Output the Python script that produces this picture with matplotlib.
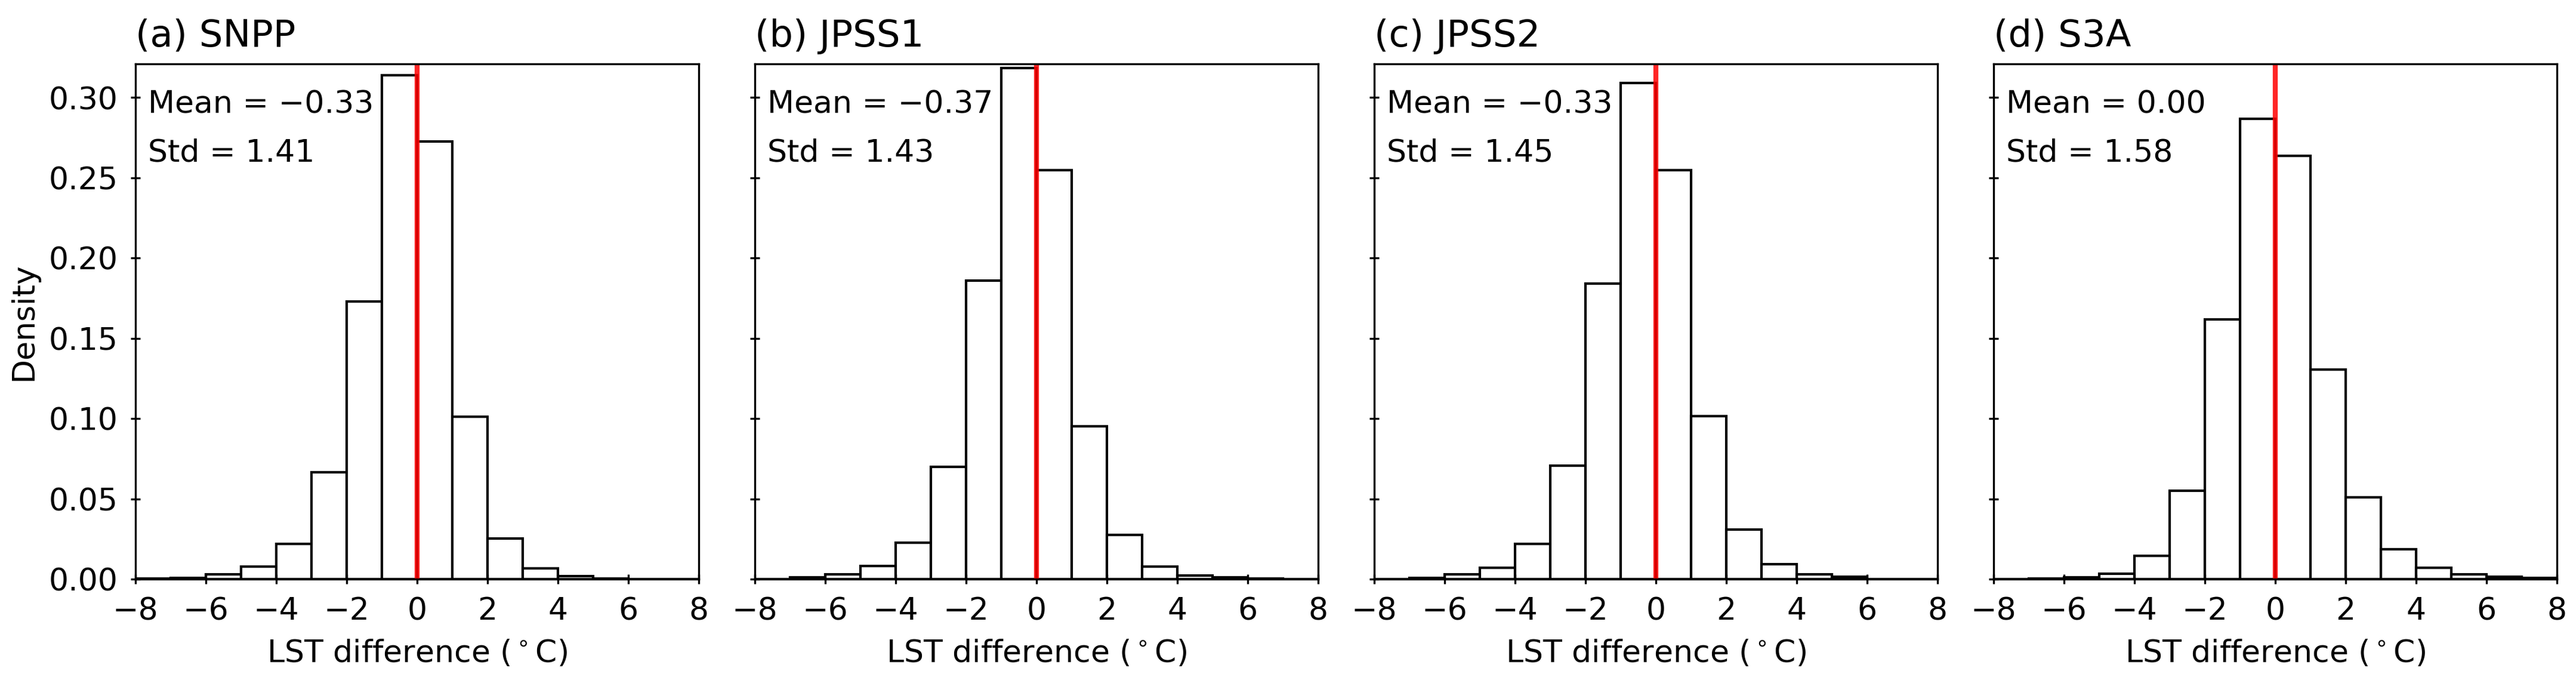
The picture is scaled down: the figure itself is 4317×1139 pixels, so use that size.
# required libraries
import numpy as np
import matplotlib
matplotlib.use("Agg")
import matplotlib.pyplot as plt

# bin edges of the histograms (LST difference, deg C)
bin_edges = np.arange(-8, 9, 1)

# density per bin
density_snpp = [0.0002, 0.0009, 0.0028, 0.0078, 0.0220, 0.0666, 0.1730, 0.3140,
                0.2727, 0.1012, 0.0253, 0.0067, 0.0017, 0.0004, 0.0, 0.0]
density_jpss1 = [0.0, 0.0011, 0.0028, 0.0080, 0.0226, 0.0699, 0.1860, 0.3185,
                 0.2549, 0.0953, 0.0274, 0.0078, 0.0022, 0.0011, 0.0004, 0.0]
density_jpss2 = [0.0, 0.0007, 0.0028, 0.0072, 0.0220, 0.0707, 0.1840, 0.3090,
                 0.2549, 0.1014, 0.0309, 0.0094, 0.0028, 0.0013, 0.0, 0.0]
density_s3a = [0.0, 0.0004, 0.0011, 0.0033, 0.0146, 0.0551, 0.1617, 0.2869,
               0.2638, 0.1306, 0.0508, 0.0185, 0.0070, 0.0028, 0.0015, 0.0007]

titles = ["(a) SNPP", "(b) JPSS1", "(c) JPSS2", "(d) S3A"]
means = [-0.33, -0.37, -0.33, 0.00]
stds = [1.41, 1.43, 1.45, 1.58]
densities = [density_snpp, density_jpss1, density_jpss2, density_s3a]


def fmt(v):
    # use a real minus sign like the original
    s = f"{v:.2f}"
    return s.replace("-", "\u2212")


# create the figure with four panels sharing the y axis
fig, axes = plt.subplots(1, 4, figsize=(14.39, 3.797), dpi=300, sharey=True)
fig.subplots_adjust(left=0.0526, right=0.9926, bottom=0.1484, top=0.906,
                    wspace=0.0996)

for ax, title, dens, m, s in zip(axes, titles, densities, means, stds):

    # histogram bars from the bin densities
    ax.hist(bin_edges[:-1] + 0.5, bins=bin_edges, weights=dens,
            facecolor="white", edgecolor="black", linewidth=1.0)

    # zero reference line
    ax.axvline(0, color="red", alpha=0.85, linewidth=2.0)

    # statistics text
    ax.text(0.022, 0.95, "Mean = " + fmt(m), transform=ax.transAxes,
            ha="left", va="top", fontsize=12.5)
    ax.text(0.022, 0.856, "Std = " + fmt(s), transform=ax.transAxes,
            ha="left", va="top", fontsize=12.5)

    ax.set_title(title, loc="left", fontsize=15, pad=7)
    ax.set_xlabel("LST difference ($^\\circ$C)", fontsize=12.5, labelpad=5)
    ax.set_xlim(-8, 8)
    ax.set_xticks(np.arange(-8, 9, 2))
    ax.tick_params(direction="inout", length=4, pad=5, labelsize=12.5)

axes[0].set_ylim(0, 0.321)
axes[0].set_yticks(np.arange(0, 0.31, 0.05))
axes[0].set_ylabel("Density", fontsize=12.5)

fig.savefig("out.png", dpi=300)
